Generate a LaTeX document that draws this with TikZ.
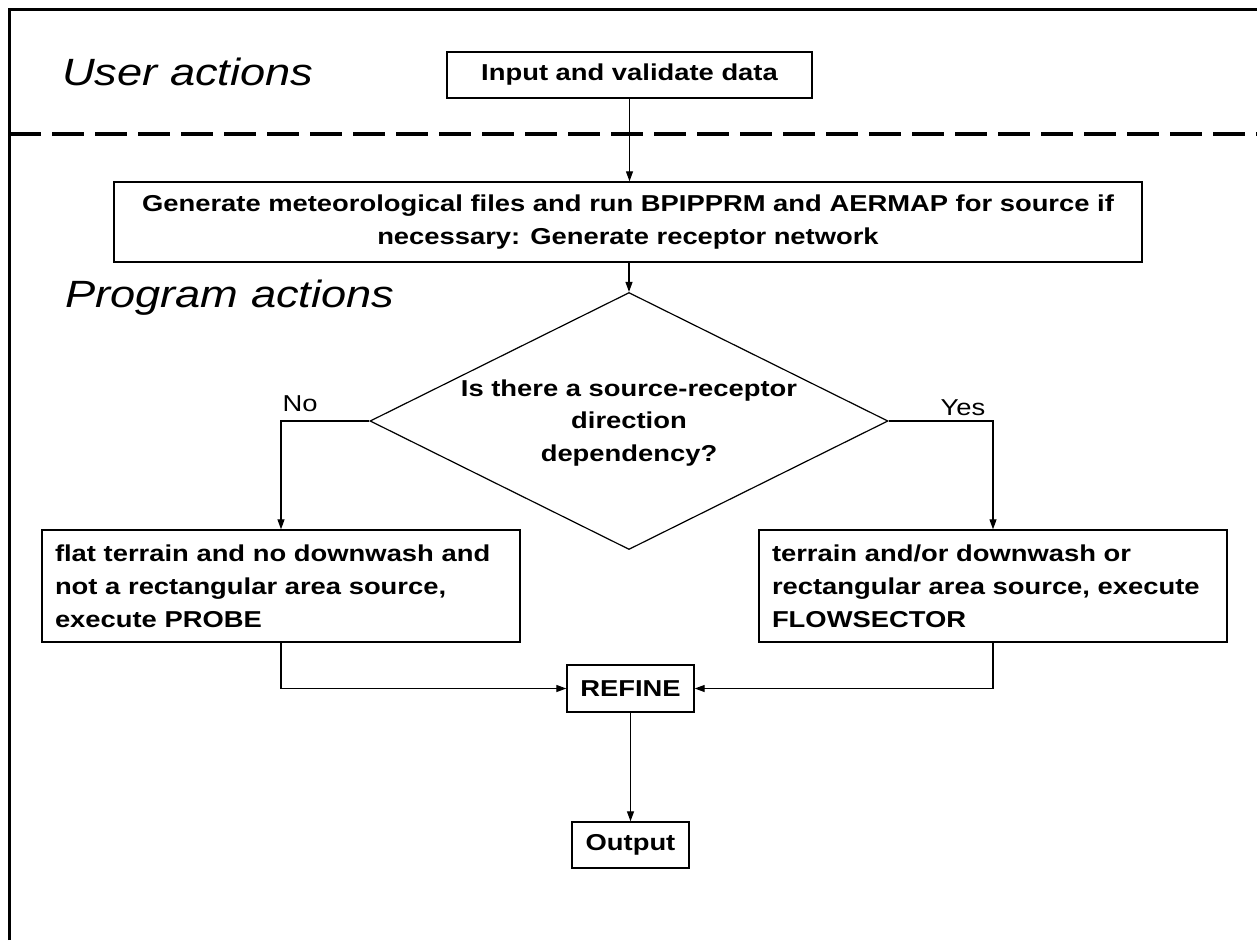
\documentclass[tikz,border=0pt]{standalone}
\usepackage{fontspec}
\setmainfont{Liberation Sans}[FakeStretch=1.19]
\usetikzlibrary{shapes.geometric,arrows.meta}
\begin{document}
\begin{tikzpicture}[x=1pt,y=-1pt,
  box/.style={draw, line width=1.4pt, inner sep=0pt, font=\bfseries\fontsize{23}{33}\selectfont},
  conn/.style={line width=1.2pt, -{Triangle[length=10pt,width=7pt]}},
  plainline/.style={line width=1.2pt},
  heading/.style={anchor=base west, inner sep=0pt, font=\itshape\fontsize{38}{40}\selectfont},
  lbl/.style={inner sep=0pt, font=\fontsize{23}{26}\selectfont}]
\fill[white] (0,0) rectangle (1257,940);
\useasboundingbox (0,0) rectangle (1257,940);
% frame and separator
\draw[line width=3pt] (9,940) -- (9,9) -- (1257,9);
\draw[line width=4pt, dash pattern=on 32pt off 11pt] (9,134) -- (1257,134);
% headings
\node[heading] (ua) at (62,85) {User actions};
\node[heading] (pa) at (65,307) {Program actions};
% nodes
\node[box, minimum width=365, minimum height=46] (inp) at (629.5,75) {Input and validate data};
\node[box, minimum width=1028, minimum height=80, align=center] (gen) at (628,222)
  {Generate meteorological files and run BPIPPRM and AERMAP for source if\\necessary: Generate receptor network};
\node[draw, line width=1.2pt, diamond, minimum width=518, minimum height=257, inner sep=0pt] (dia) at (629,421) {};
\node[inner sep=0pt, align=center, font=\bfseries\fontsize{23}{32.5}\selectfont] (diatext) at (629,423)
  {Is there a source-receptor\\direction\\dependency?};
\node[box, minimum width=478, minimum height=112, text width=452, align=left] (left) at (281,586)
  {flat terrain and no downwash and\\not a rectangular area source,\\execute PROBE};
\node[box, minimum width=468, minimum height=112, text width=442, align=left] (right) at (993,586)
  {terrain and/or downwash or\\rectangular area source, execute\\FLOWSECTOR};
\node[box, minimum width=127, minimum height=47] (ref) at (630.5,688.5) {REFINE};
\node[box, minimum width=117, minimum height=46] (out) at (630.5,845) {Output};
% labels
\node[lbl] (no) at (300,404) {No};
\node[lbl] (yes) at (963,408) {Yes};
% connectors
\draw[conn] (inp.south) -- (gen.north -| inp.south);
\draw[conn] (gen.south -| dia.north) -- (dia.north);
\draw[conn] (dia.west) -| (left.north);
\draw[conn] (dia.east) -| (right.north);
\draw[conn] (left.south) |- (ref.west);
\draw[conn] (right.south) |- (ref.east);
\draw[conn] (ref.south -| out.north) -- (out.north);
\end{tikzpicture}
\end{document}
